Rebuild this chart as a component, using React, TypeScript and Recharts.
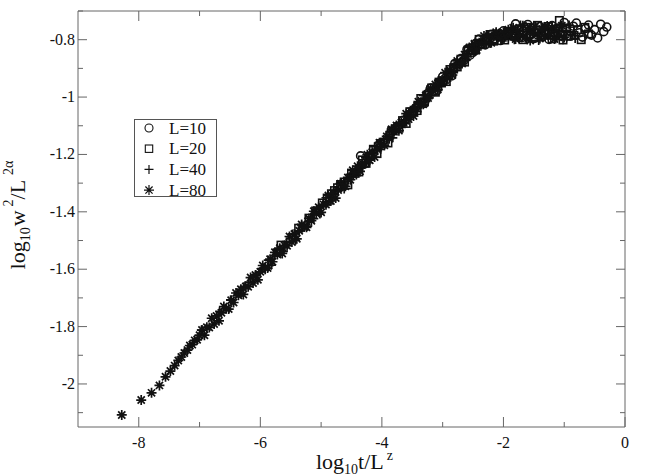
import { ScatterChart, Scatter, XAxis, YAxis, Legend, ReferenceLine } from 'recharts';

const l10Pts: [number, number][] = [
  [-4.35, -1.205], [-4.05, -1.167], [-3.87, -1.128], [-3.75, -1.102], [-3.65, -1.081], [-3.57, -1.064],
  [-3.5, -1.05], [-3.45, -1.039], [-3.4, -1.028], [-3.35, -1.018],
  [-3.3, -1.022], [-3.25, -0.988], [-3.2, -0.969], [-3.15, -0.981], [-3.1, -0.979], [-3.05, -0.948],
  [-3.0, -0.929], [-2.95, -0.941], [-2.9, -0.918], [-2.85, -0.926], [-2.8, -0.883], [-2.75, -0.888],
  [-2.7, -0.867], [-2.65, -0.872], [-2.6, -0.834], [-2.55, -0.854], [-2.5, -0.844], [-2.45, -0.813],
  [-2.4, -0.798], [-2.35, -0.814], [-2.3, -0.818], [-2.25, -0.793], [-2.2, -0.781], [-2.15, -0.801],
  [-2.1, -0.786], [-2.05, -0.803], [-2.0, -0.769], [-1.95, -0.785], [-1.9, -0.773], [-1.85, -0.788],
  [-1.8, -0.745], [-1.75, -0.792], [-1.7, -0.793], [-1.65, -0.758], [-1.6, -0.747], [-1.55, -0.781],
  [-1.5, -0.796], [-1.45, -0.766], [-1.4, -0.754], [-1.35, -0.789], [-1.3, -0.77], [-1.25, -0.799],
  [-1.2, -0.751], [-1.15, -0.777], [-1.1, -0.761], [-1.05, -0.786], [-1.0, -0.74], [-0.95, -0.787],
  [-0.9, -0.788], [-0.85, -0.753], [-0.8, -0.742], [-0.75, -0.776], [-0.7, -0.791], [-0.65, -0.761],
  [-0.6, -0.749], [-0.55, -0.784], [-0.5, -0.765], [-0.45, -0.794], [-0.4, -0.746], [-0.35, -0.772],
  [-0.3, -0.756],
];

const l20Pts: [number, number][] = [
  [-5.66, -1.516], [-5.37, -1.457], [-5.2, -1.422], [-5.09, -1.397], [-4.98, -1.369], [-4.9, -1.352],
  [-4.83, -1.337], [-4.78, -1.326], [-4.73, -1.316], [-4.68, -1.305],
  [-4.62, -1.296], [-4.56, -1.306], [-4.5, -1.265], [-4.44, -1.266], [-4.38, -1.261], [-4.32, -1.219],
  [-4.26, -1.231], [-4.2, -1.207], [-4.14, -1.182], [-4.08, -1.197], [-4.02, -1.162], [-3.96, -1.157],
  [-3.9, -1.16], [-3.84, -1.118], [-3.78, -1.112], [-3.72, -1.109], [-3.66, -1.082], [-3.6, -1.092],
  [-3.54, -1.051], [-3.48, -1.052], [-3.42, -1.047], [-3.36, -1.005], [-3.3, -1.017], [-3.24, -0.993],
  [-3.18, -0.968], [-3.12, -0.983], [-3.06, -0.948], [-3.0, -0.943], [-2.94, -0.946], [-2.88, -0.904],
  [-2.82, -0.898], [-2.76, -0.895], [-2.7, -0.868], [-2.64, -0.878], [-2.58, -0.836], [-2.52, -0.838],
  [-2.46, -0.836], [-2.4, -0.799], [-2.34, -0.816], [-2.28, -0.798], [-2.22, -0.782], [-2.16, -0.805],
  [-2.1, -0.78], [-2.04, -0.787], [-1.98, -0.801], [-1.92, -0.771], [-1.86, -0.777], [-1.8, -0.785],
  [-1.74, -0.765], [-1.68, -0.8], [-1.62, -0.757], [-1.56, -0.78], [-1.5, -0.792], [-1.44, -0.75],
  [-1.38, -0.788], [-1.32, -0.771], [-1.26, -0.754], [-1.2, -0.797], [-1.14, -0.763], [-1.08, -0.733],
  [-1.02, -0.801], [-0.96, -0.759], [-0.9, -0.769], [-0.84, -0.785], [-0.78, -0.765], [-0.72, -0.8],
  [-0.66, -0.757], [-0.6, -0.78],
];

const l40Pts: [number, number][] = [
  [-6.97, -1.812], [-6.67, -1.747], [-6.49, -1.707], [-6.37, -1.683], [-6.27, -1.661], [-6.19, -1.645],
  [-6.12, -1.63], [-6.07, -1.62], [-6.02, -1.61], [-5.97, -1.599],
  [-5.92, -1.602], [-5.87, -1.568], [-5.82, -1.586], [-5.77, -1.554], [-5.72, -1.53], [-5.67, -1.544],
  [-5.62, -1.538], [-5.57, -1.504], [-5.52, -1.505], [-5.47, -1.477], [-5.42, -1.499], [-5.37, -1.467],
  [-5.32, -1.447], [-5.27, -1.452], [-5.22, -1.45], [-5.17, -1.418], [-5.12, -1.424], [-5.07, -1.39],
  [-5.02, -1.408], [-4.97, -1.375], [-4.92, -1.351], [-4.87, -1.365], [-4.82, -1.36], [-4.77, -1.326],
  [-4.72, -1.327], [-4.67, -1.299], [-4.62, -1.32], [-4.57, -1.288], [-4.52, -1.269], [-4.47, -1.274],
  [-4.42, -1.272], [-4.37, -1.24], [-4.32, -1.245], [-4.27, -1.211], [-4.22, -1.229], [-4.17, -1.197],
  [-4.12, -1.173], [-4.07, -1.187], [-4.02, -1.182], [-3.97, -1.147], [-3.92, -1.148], [-3.87, -1.12],
  [-3.82, -1.142], [-3.77, -1.11], [-3.72, -1.091], [-3.67, -1.096], [-3.62, -1.093], [-3.57, -1.061],
  [-3.52, -1.067], [-3.47, -1.033], [-3.42, -1.051], [-3.37, -1.019], [-3.32, -0.994], [-3.27, -1.008],
  [-3.22, -1.003], [-3.17, -0.969], [-3.12, -0.97], [-3.07, -0.942], [-3.02, -0.964], [-2.97, -0.931],
  [-2.92, -0.912], [-2.87, -0.917], [-2.82, -0.915], [-2.77, -0.883], [-2.72, -0.889], [-2.67, -0.855],
  [-2.62, -0.872], [-2.57, -0.84], [-2.52, -0.816], [-2.47, -0.833], [-2.42, -0.831], [-2.37, -0.801],
  [-2.32, -0.806], [-2.27, -0.784], [-2.22, -0.813], [-2.17, -0.788], [-2.12, -0.777], [-2.07, -0.791],
  [-2.02, -0.798], [-1.97, -0.775], [-1.92, -0.791], [-1.87, -0.767], [-1.82, -0.8], [-1.77, -0.768],
  [-1.72, -0.749], [-1.67, -0.786], [-1.62, -0.796], [-1.57, -0.761], [-1.52, -0.779], [-1.47, -0.754],
  [-1.42, -0.803], [-1.37, -0.771], [-1.32, -0.76], [-1.27, -0.784], [-1.22, -0.797], [-1.17, -0.766],
  [-1.12, -0.791], [-1.07, -0.756], [-1.02, -0.8], [-0.97, -0.768], [-0.92, -0.749], [-0.87, -0.786],
  [-0.82, -0.796],
];

const l80Pts: [number, number][] = [
  [-8.28, -2.108], [-7.96, -2.056], [-7.79, -2.031], [-7.66, -2.005], [-7.56, -1.975], [-7.48, -1.955],
  [-7.41, -1.936], [-7.35, -1.918], [-7.3, -1.906], [-7.25, -1.892], [-7.2, -1.882], [-7.16, -1.866],
  [-7.12, -1.863], [-7.08, -1.848], [-7.04, -1.846], [-7.0, -1.83],
  [-6.96, -1.812], [-6.92, -1.83], [-6.88, -1.802], [-6.84, -1.803], [-6.8, -1.771], [-6.76, -1.791],
  [-6.72, -1.763], [-6.68, -1.78], [-6.64, -1.752], [-6.6, -1.73], [-6.56, -1.738], [-6.52, -1.739],
  [-6.48, -1.708], [-6.44, -1.716], [-6.4, -1.683], [-6.36, -1.691], [-6.32, -1.67], [-6.28, -1.688],
  [-6.24, -1.66], [-6.2, -1.661], [-6.16, -1.629], [-6.12, -1.648], [-6.08, -1.62], [-6.04, -1.637],
  [-6.0, -1.609], [-5.96, -1.587], [-5.92, -1.595], [-5.88, -1.596], [-5.84, -1.565], [-5.8, -1.574],
  [-5.76, -1.541], [-5.72, -1.549], [-5.68, -1.527], [-5.64, -1.545], [-5.6, -1.517], [-5.56, -1.518],
  [-5.52, -1.486], [-5.48, -1.505], [-5.44, -1.477], [-5.4, -1.494], [-5.36, -1.466], [-5.32, -1.444],
  [-5.28, -1.453], [-5.24, -1.454], [-5.2, -1.423], [-5.16, -1.431], [-5.12, -1.398], [-5.08, -1.406],
  [-5.04, -1.384], [-5.0, -1.402], [-4.96, -1.374], [-4.92, -1.375], [-4.88, -1.343], [-4.84, -1.362],
  [-4.8, -1.335], [-4.76, -1.352], [-4.72, -1.324], [-4.68, -1.302], [-4.64, -1.31], [-4.6, -1.311],
  [-4.56, -1.28], [-4.52, -1.288], [-4.48, -1.255], [-4.44, -1.263], [-4.4, -1.241], [-4.36, -1.259],
  [-4.32, -1.231], [-4.28, -1.233], [-4.24, -1.201], [-4.2, -1.22], [-4.16, -1.192], [-4.12, -1.209],
  [-4.08, -1.181], [-4.04, -1.159], [-4.0, -1.167], [-3.96, -1.168], [-3.92, -1.137], [-3.88, -1.145],
  [-3.84, -1.112], [-3.8, -1.121], [-3.76, -1.099], [-3.72, -1.117], [-3.68, -1.089], [-3.64, -1.09],
  [-3.6, -1.058], [-3.56, -1.077], [-3.52, -1.049], [-3.48, -1.066], [-3.44, -1.038], [-3.4, -1.016],
  [-3.36, -1.024], [-3.32, -1.025], [-3.28, -0.995], [-3.24, -1.003], [-3.2, -0.97], [-3.16, -0.978],
  [-3.12, -0.956], [-3.08, -0.974], [-3.04, -0.946], [-3.0, -0.947], [-2.96, -0.915], [-2.92, -0.934],
  [-2.88, -0.906], [-2.84, -0.923], [-2.8, -0.896], [-2.76, -0.874], [-2.72, -0.882], [-2.68, -0.883],
  [-2.64, -0.852], [-2.6, -0.86], [-2.56, -0.827], [-2.52, -0.835], [-2.48, -0.815], [-2.44, -0.836],
  [-2.4, -0.811], [-2.36, -0.815], [-2.32, -0.787], [-2.28, -0.811], [-2.24, -0.788], [-2.2, -0.811],
  [-2.16, -0.789], [-2.12, -0.774], [-2.08, -0.789], [-2.04, -0.797], [-2.0, -0.774], [-1.96, -0.79],
  [-1.92, -0.765], [-1.88, -0.781], [-1.84, -0.758], [-1.8, -0.798], [-1.76, -0.77], [-1.72, -0.785],
  [-1.68, -0.751], [-1.64, -0.792], [-1.6, -0.764], [-1.56, -0.803], [-1.52, -0.774], [-1.48, -0.755],
  [-1.44, -0.781], [-1.4, -0.796], [-1.36, -0.763], [-1.32, -0.788], [-1.28, -0.752], [-1.24, -0.778],
  [-1.2, -0.758], [-1.16, -0.798], [-1.12, -0.77], [-1.08, -0.785], [-1.04, -0.751], [-1.0, -0.792],
];

const xTicks = [-8, -7, -6, -5, -4, -3, -2, -1, 0];
const xMajor = [-8, -6, -4, -2, 0];
const yTicks = [-2.1, -2, -1.9, -1.8, -1.7, -1.6, -1.5, -1.4, -1.3, -1.2, -1.1, -1, -0.9, -0.8, -0.7];
const yMajor = [-2, -1.8, -1.6, -1.4, -1.2, -1, -0.8];
const seriesNames = ['L=10', 'L=20', 'L=40', 'L=80'];

const X_DOMAIN: [number, number] = [-9, 0];
const Y_DOMAIN: [number, number] = [-2.15, -0.7];

const FONT = 'Liberation Serif, Times New Roman, serif';
const AXIS = '#666';
const INK = '#111';

const toRows = (pts: [number, number][]) => pts.map(([x, y]) => ({ x, y }));

const isMajor = (list: number[], v: number) => list.some((m) => Math.abs(m - v) < 1e-6);

// open marker glyphs like the original plot; w = stroke width
const mkCircle = (w: number) => ({ cx, cy }: any) => (
  <circle cx={cx} cy={cy} r={4} fill="none" stroke={INK} strokeWidth={w} />
);
const mkSquare = (w: number) => ({ cx, cy }: any) => (
  <rect x={cx - 3.7} y={cy - 3.7} width={7.4} height={7.4} fill="none" stroke={INK} strokeWidth={w} />
);
const mkPlus = (w: number) => ({ cx, cy }: any) => (
  <path d={`M${cx - 4.5},${cy}H${cx + 4.5}M${cx},${cy - 4.5}V${cy + 4.5}`} stroke={INK} strokeWidth={w} />
);
const mkStar = (w: number) => ({ cx, cy }: any) => (
  <path
    d={`M${cx - 5},${cy}H${cx + 5}M${cx},${cy - 5}V${cy + 5}M${cx - 3.6},${cy - 3.6}L${cx + 3.6},${cy + 3.6}M${cx - 3.6},${cy + 3.6}L${cx + 3.6},${cy - 3.6}`}
    stroke={INK}
    strokeWidth={w}
  />
);
const plotGlyphs = [mkCircle(1.6), mkSquare(1.6), mkPlus(1.7), mkStar(1.7)];
const legendGlyphs = [mkCircle(1.1), mkSquare(1.1), mkPlus(1.2), mkStar(1.2)];

function BottomTick({ x, y, payload }: any) {
  const major = isMajor(xMajor, payload.value);
  return (
    <g>
      <line x1={x} x2={x} y1={y} y2={y - (major ? 10 : 5)} stroke={AXIS} />
      {major && (
        <text x={x} y={y + 21} textAnchor="middle" fontFamily={FONT} fontSize={16} fill={INK}>
          {payload.value}
        </text>
      )}
    </g>
  );
}

function LeftTick({ x, y, payload }: any) {
  const major = isMajor(yMajor, payload.value);
  return (
    <g>
      <line x1={x} x2={x + (major ? 9 : 5)} y1={y} y2={y} stroke={AXIS} />
      {major && (
        <text x={x - 3} y={y + 5} textAnchor="end" fontFamily={FONT} fontSize={16} fill={INK}>
          {payload.value}
        </text>
      )}
    </g>
  );
}

const xLabel = (props: any) => {
  const vb = props.viewBox || { x: 78, y: 427, width: 547 };
  return (
    <text x={vb.x + vb.width / 2 + 3} y={vb.y + 42} textAnchor="middle" fontFamily={FONT} fontSize={22} fill={INK}>
      log
      <tspan dy={5} fontSize={14}>10</tspan>
      <tspan dy={-5}>t/L</tspan>
      <tspan dy={-9} dx={3} fontSize={14}>z</tspan>
    </text>
  );
};

const yLabel = (props: any) => {
  const vb = props.viewBox || { x: 0, y: 11, height: 416 };
  const cx = 25;
  const cy = vb.y + vb.height / 2 - 4;
  return (
    <text
      x={cx}
      y={cy}
      transform={`rotate(-90, ${cx}, ${cy})`}
      textAnchor="middle"
      fontFamily={FONT}
      fontSize={22}
      fill={INK}
    >
      log
      <tspan dy={5} fontSize={14}>10</tspan>
      <tspan dy={-5} dx={1}>w</tspan>
      <tspan dy={-12} dx={4} fontSize={14}>2</tspan>
      <tspan dy={12}>/L</tspan>
      <tspan dy={-12} dx={5} fontSize={14}>2α</tspan>
    </text>
  );
};

function LegendBox() {
  return (
    <svg width={86} height={90} style={{ display: 'block' }}>
      <rect x={0.5} y={0.5} width={82} height={77} fill="#fff" stroke="#555" />
      {seriesNames.map((name, i) => {
        const G = legendGlyphs[i];
        const cy = 9 + i * 20.7;
        return (
          <g key={name}>
            <G cx={15} cy={cy} />
            <text x={35} y={cy + 5.5} fontFamily={FONT} fontSize={17} fill={INK}>
              {name}
            </text>
          </g>
        );
      })}
    </svg>
  );
}

const seriesData = [toRows(l10Pts), toRows(l20Pts), toRows(l40Pts), toRows(l80Pts)];

// tick lengths on the top and right frame, in axis units (10px / 5px inward)
const yPerPx = (Y_DOMAIN[1] - Y_DOMAIN[0]) / 416;
const xPerPx = (X_DOMAIN[1] - X_DOMAIN[0]) / 547;

export default function App() {
  return (
    <div style={{ position: 'absolute', left: 0, top: 0, background: '#fff' }}>
      <ScatterChart width={648} height={476} margin={{ top: 11, right: 23, bottom: 0, left: 0 }}>
        <XAxis
          type="number"
          dataKey="x"
          domain={X_DOMAIN}
          allowDataOverflow
          ticks={xTicks}
          interval={0}
          height={49}
          tickSize={0}
          tickMargin={0}
          tickLine={false}
          axisLine={{ stroke: AXIS }}
          tick={<BottomTick />}
          label={xLabel}
        />
        <YAxis
          type="number"
          dataKey="y"
          domain={Y_DOMAIN}
          allowDataOverflow
          ticks={yTicks}
          interval={0}
          width={78}
          tickSize={0}
          tickMargin={0}
          tickLine={false}
          axisLine={{ stroke: AXIS }}
          tick={<LeftTick />}
          label={yLabel}
        />
        {/* closing frame: top and right edges with inward ticks */}
        <ReferenceLine y={Y_DOMAIN[1]} stroke={AXIS} ifOverflow="visible" />
        <ReferenceLine x={X_DOMAIN[1]} stroke={AXIS} ifOverflow="visible" />
        {xTicks.map((t) => (
          <ReferenceLine
            key={`tx${t}`}
            stroke={AXIS}
            ifOverflow="visible"
            segment={[
              { x: t, y: Y_DOMAIN[1] },
              { x: t, y: Y_DOMAIN[1] - (isMajor(xMajor, t) ? 10 : 5) * yPerPx },
            ]}
          />
        ))}
        {yTicks.map((t) => (
          <ReferenceLine
            key={`ty${t}`}
            stroke={AXIS}
            ifOverflow="visible"
            segment={[
              { x: X_DOMAIN[1], y: t },
              { x: X_DOMAIN[1] - (isMajor(yMajor, t) ? 9 : 5) * xPerPx, y: t },
            ]}
          />
        ))}
        {seriesNames.map((name, i) => (
          <Scatter key={name} name={name} data={seriesData[i]} shape={plotGlyphs[i]} isAnimationActive={false} />
        ))}
        <Legend
          layout="vertical"
          align="center"
          verticalAlign="middle"
          wrapperStyle={{ left: 134, top: 119, width: 'auto', height: 'auto' }}
          content={() => <LegendBox />}
        />
      </ScatterChart>
    </div>
  );
}
